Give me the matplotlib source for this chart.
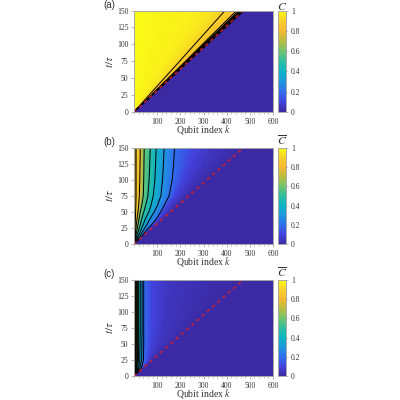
import numpy as np
import matplotlib
matplotlib.use("Agg")
import matplotlib.pyplot as plt
from matplotlib.colors import LinearSegmentedColormap
from matplotlib.ticker import MultipleLocator

plt.rcParams['font.family'] = ['Liberation Serif', 'DejaVu Serif']
plt.rcParams['mathtext.fontset'] = 'stix'

# value read at each contour position (columns), time read per row
a_levels = [1.0, 0.97, 0.94, 0.9, 0.85, 0.8, 0.7, 0.6, 0.5, 0.4, 0.3, 0.2, 0.1, 0.0]
a_t = [0, 25, 50, 75, 100, 125, 150]
a_k = [
    [0, 0, 0, 0, 0, 0, 0],
    [0, 45, 90, 135, 180, 225, 270],
    [0, 58, 117, 175, 233, 292, 350],
    [0, 65, 131, 197, 262, 328, 393],
    [0, 74, 148, 222, 295, 369, 443],
    [0, 75, 151, 226, 301, 377, 452],
    [0, 76, 153, 229, 305, 382, 458],
    [0, 77, 154, 231, 308, 385, 462],
    [0, 77, 155, 232, 310, 387, 465],
    [0, 78, 156, 234, 312, 390, 468],
    [0, 78, 157, 235, 314, 392, 471],
    [0, 79, 158, 236, 315, 394, 473],
    [0, 79, 158, 237, 316, 396, 475],
    [0, 80, 159, 239, 318, 398, 478],
]
a_lines = [0.9, 0.85, 0.8, 0.7, 0.6, 0.5, 0.4, 0.3, 0.2, 0.1]

b_levels = [1.0, 0.95, 0.9, 0.8, 0.6, 0.5, 0.4, 0.3, 0.2, 0.1, 0.05, 0.0]
b_t = [0, 5, 10, 20, 30, 40, 50, 60, 75, 100, 125, 150]
b_k = [
    [0, 0, 0, 0, 0, 0, 0, 0, 0, 0, 0, 0],
    [0, 1, 1.5, 2, 2, 3, 3, 3, 4, 4, 4, 4],
    [0, 1.5, 2.5, 4, 5, 6, 7, 8, 9, 9, 9, 9],
    [0, 2, 4, 7, 10, 13, 17, 20, 23, 25, 26, 27],
    [0, 3, 6, 12, 17, 22, 27, 33, 40, 42, 43, 44],
    [0, 5, 10, 19, 27, 34, 42, 50, 60, 65, 68, 70],
    [0, 8, 15, 28, 39, 50, 64, 73, 83, 90, 93, 96],
    [0, 12, 22, 38, 55, 70, 87, 101, 116, 123, 127, 130],
    [0, 15, 29, 50, 76, 98, 115, 130, 151, 165, 171, 175],
    [0, 15.5, 30, 56, 84, 105, 125, 142, 175, 210, 235, 260],
    [0, 16, 30.5, 60, 90, 118, 143, 165, 205, 255, 300, 340],
    [0, 16, 31, 63, 94, 126, 157, 188, 236, 314, 393, 471],
]
b_lines = [0.95, 0.9, 0.8, 0.6, 0.5, 0.4, 0.3, 0.2]

c_levels = [1.0, 0.95, 0.9, 0.8, 0.7, 0.6, 0.5, 0.4, 0.3, 0.2, 0.1, 0.05, 0.02, 0.0]
c_t = [0, 5, 10, 25, 50, 75, 100, 125, 150]
c_k = [
    [0, 0, 0, 0, 0, 0, 0, 0, 0],
    [0, 2, 3, 4, 4, 4, 4, 4, 4],
    [0, 3, 5, 6, 7, 7, 7, 7, 7],
    [0, 4, 7, 9, 10, 10, 10, 10, 10],
    [0, 5, 9, 12, 13, 13, 13, 13, 13],
    [0, 7, 11, 15, 16, 16, 16, 16, 16],
    [0, 9, 15, 19, 20, 20, 20, 20, 20],
    [0, 11, 19, 25, 26, 27, 27, 27, 27],
    [0, 13, 24, 33, 34, 35, 35, 35, 35],
    [0, 15, 30, 41, 42, 42, 42, 42, 42],
    [0, 16, 32, 62, 72, 75, 76, 77, 77],
    [0, 16, 33, 70, 110, 130, 140, 145, 150],
    [0, 17, 34, 75, 150, 200, 240, 270, 300],
    [0, 17, 34, 79, 157, 236, 314, 393, 471],
]
c_lines = [0.95, 0.9, 0.8, 0.7, 0.6, 0.5, 0.4, 0.3, 0.2]

front_k = [0, 465]
front_t = [0, 148]
k_max = 600
t_max = 150

x_ticks = [100, 200, 300, 400, 500, 600]
y_ticks = [0, 25, 50, 75, 100, 125, 150]
cb_ticks = [0, 0.2, 0.4, 0.6, 0.8, 1]
cb_labels = ['0', '0.2', '0.4', '0.6', '0.8', '1']
panel_labels = ['(a)', '(b)', '(c)']
cb_titles = [r'$C$', r'$\overline{C}$', r'$\overline{C}$']
cb_title_y = [6.5, 141, 273]

cmap = LinearSegmentedColormap.from_list('parula_like', [
    (0.00, '#3B2AA3'), (0.10, '#4343E0'), (0.20, '#2F6FEE'), (0.30, '#1E98DF'),
    (0.40, '#0BB5C5'), (0.50, '#2CBEA0'), (0.60, '#6EC46E'), (0.70, '#B5BD3E'),
    (0.80, '#F5B830'), (0.90, '#F9CE2A'), (1.00, '#F9FB15')])

W = H = 400.0
panels = [
    (a_t, a_k, a_levels, a_lines, 10.5, 112),
    (b_t, b_k, b_levels, b_lines, 148, 244),
    (c_t, c_k, c_levels, c_lines, 280, 376),
]
GRAY = '#a8a8a8'
TXT = '#333333'

fig = plt.figure(figsize=(4, 4), dpi=100)
for i, (ts, ks, lv, lines, top, bot) in enumerate(panels):
    ax = fig.add_axes([134 / W, 1 - bot / H, 139 / W, (bot - top) / H])
    K = np.array(ks, dtype=float).T
    T = np.tile(np.array(ts, dtype=float)[:, None], (1, K.shape[1]))
    V = np.tile(np.array(lv, dtype=float), (K.shape[0], 1))
    # rightmost column reaches the axis edge with the zero value
    K = np.hstack([K, np.full((K.shape[0], 1), k_max)])
    T = np.hstack([T, T[:, -1:]])
    V = np.hstack([V, V[:, -1:]])
    mesh = ax.pcolormesh(K, T, V, shading='gouraud', cmap=cmap, vmin=0, vmax=1,
                         rasterized=True)
    for level in lines:
        ax.plot(ks[lv.index(level)], ts, color='black', lw=0.7)
    ax.plot(front_k, front_t, color='#d8202a', lw=1.0, ls=(0, (2.5, 2.5)))
    ax.set_xlim(0, k_max)
    ax.set_ylim(0, t_max)
    ax.set_xticks(x_ticks)
    ax.set_yticks(y_ticks)
    ax.xaxis.set_minor_locator(MultipleLocator(20))
    ax.tick_params(axis='both', which='major', length=2.5, width=0.6, color=GRAY,
                   labelsize=5.5, labelcolor=TXT, pad=1.5)
    ax.tick_params(axis='x', which='minor', length=1.5, width=0.5, color=GRAY)
    for s in ax.spines.values():
        s.set_color(GRAY)
        s.set_linewidth(0.7)
    ax.set_xlabel(r'Qubit index $k$', fontsize=7, color=TXT, labelpad=-1.5)
    ax.set_ylabel(r'$t/\tau$', fontsize=8, color=TXT, labelpad=1.5)

    cax = fig.add_axes([278 / W, 1 - bot / H, 8 / W, (bot - top) / H])
    cb = fig.colorbar(mesh, cax=cax)
    cb.set_ticks(cb_ticks)
    cb.set_ticklabels(cb_labels)
    cb.ax.tick_params(length=1.5, width=0.5, color=GRAY, labelsize=5.5,
                      labelcolor=TXT, pad=2)
    cb.outline.set_edgecolor(GRAY)
    cb.outline.set_linewidth(0.7)
    fig.text(282 / W, 1 - cb_title_y[i] / H, cb_titles[i], fontsize=8.5, color=TXT,
             ha='center', va='center')
    fig.text(103 / W, 1 - (top - 6) / H, panel_labels[i], fontsize=7, color=TXT,
             family=['Liberation Sans'], ha='left', va='center')

fig.savefig('out.png', dpi=100)
